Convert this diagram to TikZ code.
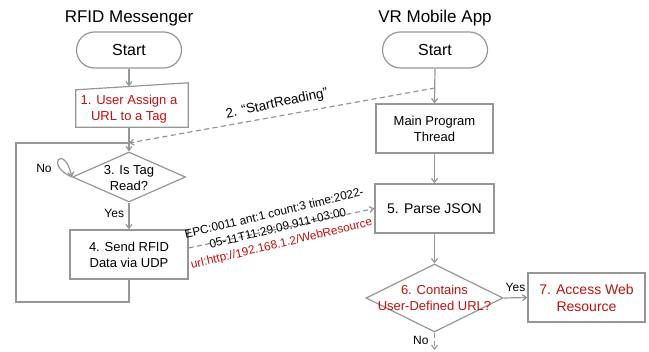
\documentclass[tikz,border=0pt]{standalone}
\usepackage{fontspec}
\setmainfont{Liberation Sans}
\usetikzlibrary{shapes.geometric,arrows.meta,calc}
\definecolor{ln}{RGB}{150,150,150}
\definecolor{rd}{RGB}{192,16,16}
\tikzset{
  line/.style={draw=ln, line width=1.2pt},
  arr/.style={line, -{Straight Barb[length=4pt,width=6pt]}},
  darr/.style={arr, dash pattern=on 5pt off 3.5pt},
  term/.style={line, rounded corners=18pt, minimum width=105pt, minimum height=36pt, font=\fontsize{16}{18}\selectfont},
  box/.style={line, minimum width=118pt, minimum height=49pt, align=center, font=\fontsize{13}{16}\selectfont},
  dia/.style={line, diamond, inner sep=0pt},
  txt/.style={align=center, font=\fontsize{13}{16}\selectfont},
  ttl/.style={font=\fontsize{17}{20}\selectfont},
  lbl/.style={font=\fontsize{12}{14}\selectfont},
}
\begin{document}
\begin{tikzpicture}[x=1pt,y=-1pt]
\useasboundingbox (0,0) rectangle (649,352);
% titles
\node[ttl] (t1) at (129,18) {RFID Messenger};
\node[ttl] (t2) at (435,18) {VR Mobile App};
% left column
\node[term] (s1) at (129,50) {Start};
\node[minimum width=112pt, minimum height=44pt] (b1) at (132,105) {};
\draw[line] (b1.south west) -- (b1.south east) -- (b1.north east) -- ([yshift=-7pt]b1.north west) -- cycle;
\node[txt, text=rd] (b1t) at (129,109) {1. User Assign a\\URL to a Tag};
\node[dia, minimum width=113pt, minimum height=50pt] (d3) at (129,177) {};
\node[txt] (d3t) at (129,178) {3. Is Tag\\Read?};
\node[box] (b4) at (129,254.5) {4. Send RFID\\Data via UDP};
% right column
\node[term] (s2) at (435,50) {Start};
\node[box, minimum width=117pt] (m) at (434.5,128.5) {Main Program\\Thread};
\node[box, minimum width=119pt, font=\fontsize{14}{16}\selectfont] (p) at (434.5,208.5) {5. Parse JSON};
\node[dia, minimum width=137pt, minimum height=68pt] (d6) at (434.5,298) {};
\node[txt, text=rd] (d6t) at (434.5,298) {6. Contains\\User-Defined URL?};
\node[box, minimum width=117pt, text=rd, font=\fontsize{14}{17}\selectfont] (b7) at (586.5,297.5) {7. Access Web\\Resource};
% coordinates
\coordinate (b1top) at (129,86.5);
\coordinate (j) at (129,143);
\coordinate (lb) at (16,302);
\coordinate (lt) at (16,143);
\coordinate (r1) at (435,88);
\coordinate (no6) at (434.5,350);
% connectors left
\draw[arr] (s1.south) -- (b1top);
\draw[arr] (b1.south -| j) -- (d3.north);
\draw[line] (b4.south) |- (lb) -- (lt) -- (j);
\draw[arr] (d3.south) -- node[lbl, left, pos=0.4, xshift=-1pt] {Yes} (b4.north);
\draw[arr] (d3.west) .. controls (44,165) and (64,143) .. (d3.west);
\node[lbl] (no3) at (44,168) {No};
% connectors right
\draw[arr] (s2.south) -- (m.north);
\draw[arr] (m.south) -- (p.north);
\draw[arr] (p.south) -- (d6.north);
\draw[arr] (d6.east) -- node[lbl, above, yshift=2pt] {Yes} (b7.west);
\draw[darr] (d6.south) -- node[lbl, left, pos=0.45, xshift=-2pt] {No} (no6);
% cross connectors
\draw[darr] (r1) -- (j);
\node[rotate=12, font=\fontsize{13.5}{16}\selectfont] (sr) at (277,104) {2. “StartReading”};
\draw[darr] ([yshift=6.5pt]b4.east) -- (p.west);
\node[align=center, rotate=13.5, font=\fontsize{11.8}{15.5}\selectfont] (dat) at (278,229)
  {EPC:0011 ant:1 count:3 time:2022-\\05-11T11:29:09.911+03:00\\\textcolor{rd}{url:http://192.168.1.2/WebResource}};
\end{tikzpicture}
\end{document}
